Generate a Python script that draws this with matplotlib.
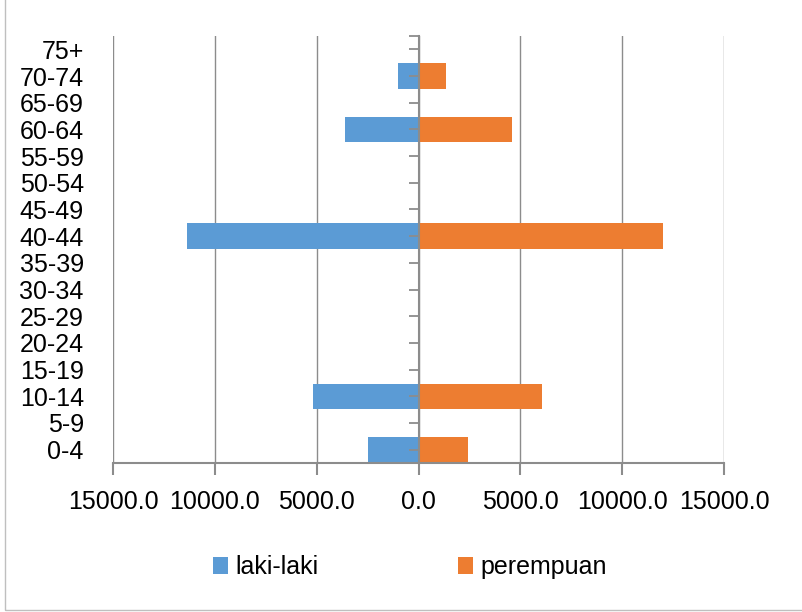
import numpy as np
import matplotlib.pyplot as plt
from matplotlib.ticker import FuncFormatter
from matplotlib.patches import Rectangle

kelompok_umur = ['0-4', '5-9', '10-14', '15-19', '20-24', '25-29', '30-34', '35-39',
                 '40-44', '45-49', '50-54', '55-59', '60-64', '65-69', '70-74', '75+']
laki_laki = [2500, 0, 5180, 0, 0, 0, 0, 0, 11380, 0, 0, 0, 3600, 0, 1010, 0]
perempuan = [2420, 0, 6040, 0, 0, 0, 0, 0, 12010, 0, 0, 0, 4580, 0, 1340, 0]

plt.rcParams['font.family'] = ['Liberation Sans Narrow', 'Liberation Sans', 'DejaVu Sans']
plt.rcParams['font.size'] = 18

biru = '#5B9BD5'
oranye = '#ED7D31'
abu = '#8C8C8C'

fig = plt.figure(figsize=(8.02, 6.12), dpi=100)
ax = fig.add_axes([113 / 802, 1 - 463 / 612, (724 - 113) / 802, (463 - 36) / 612])

y = np.arange(len(kelompok_umur))
ax.barh(y, -np.array(laki_laki), height=0.95, color=biru, label='laki-laki', zorder=2)
ax.barh(y, perempuan, height=0.95, color=oranye, label='perempuan', zorder=2)

ax.set_xlim(-15000, 15000)
ax.set_ylim(-0.5, len(kelompok_umur) - 0.5)
ax.set_xticks(np.arange(-15000, 15001, 5000))
ax.xaxis.set_major_formatter(FuncFormatter(lambda v, p: f'{abs(v):.1f}'))
ax.tick_params(axis='x', length=8.5, width=1.5, color=abu, pad=11, direction='out')
ax.grid(axis='x', color=abu, linewidth=1, zorder=0)
ax.set_axisbelow(True)
for s in ['right', 'top']:
    ax.spines[s].set_visible(False)
ax.spines['bottom'].set_color(abu)
ax.spines['bottom'].set_linewidth(1.5)

# sumbu tegak di titik nol, tanda kecil di tengah tiap kategori
ax.spines['left'].set_position(('data', 0))
ax.spines['left'].set_color(abu)
ax.spines['left'].set_linewidth(1.5)
ax.spines['left'].set_zorder(3)
ax.set_yticks(list(y) + [len(kelompok_umur) - 0.5])
ax.set_yticklabels([])
ax.tick_params(axis='y', length=7, width=1.3, color=abu, direction='out')
ax.yaxis.set_zorder(3)

# label kategori di tepi kiri
label_umur = ax.secondary_yaxis('left')
label_umur.set_yticks(y)
label_umur.set_yticklabels(kelompok_umur)
label_umur.tick_params(length=0, pad=21)
label_umur.spines['left'].set_visible(False)

fig.legend(loc='center', bbox_to_anchor=(410 / 802, 1 - 567 / 612), ncol=2, frameon=False,
           handlelength=0.6, handleheight=0.7, handletextpad=0.3, columnspacing=5.6)

fig.patches.append(Rectangle((5 / 802, 2 / 612), 1.1, 1.1, transform=fig.transFigure,
                             fill=False, edgecolor='#BFBFBF', linewidth=1))

fig.savefig('out.png', dpi=100)
